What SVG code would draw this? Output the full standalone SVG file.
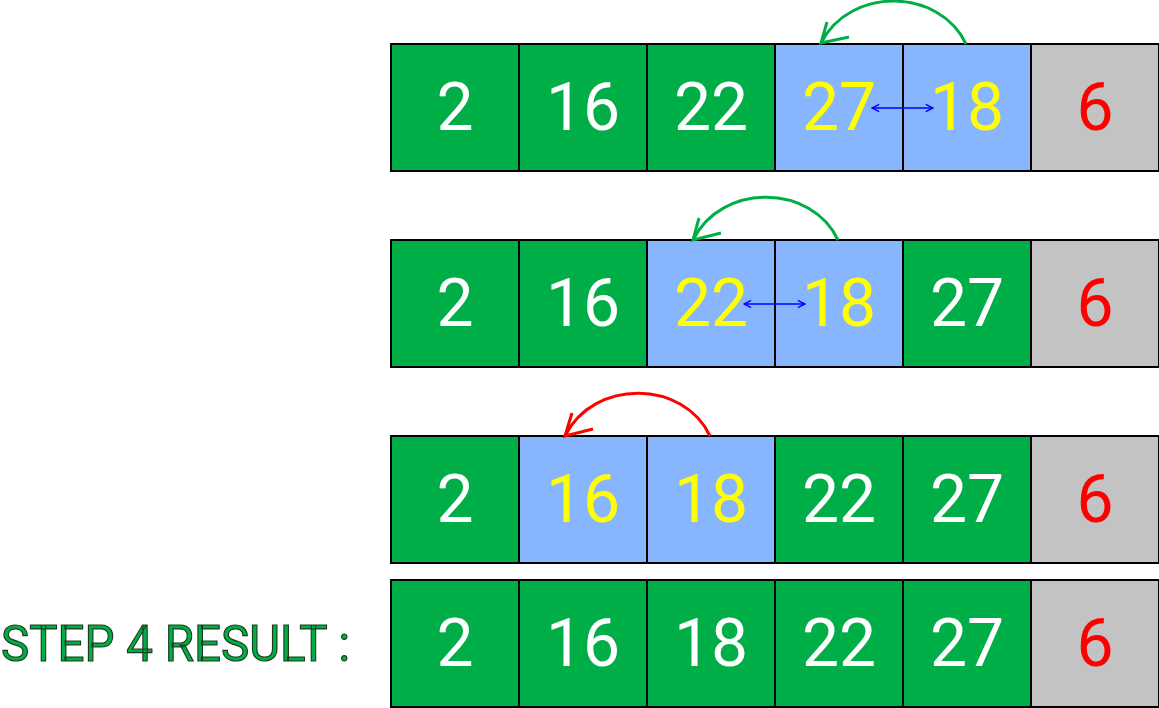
<svg xmlns="http://www.w3.org/2000/svg" width="1159" height="708" viewBox="0 0 1159 708">
<style>
.g{fill:#00AE48;stroke:#000;stroke-width:2}
.b{fill:#87B6FF;stroke:#000;stroke-width:2}
.s{fill:#C3C3C3;stroke:#000;stroke-width:2}
text{font-family:Roboto,"Liberation Sans",sans-serif;font-size:66px;text-anchor:middle}
.w{fill:#fff}.y{fill:#FFFF00}.r{fill:#FF0000}
.lbl{font-size:50px;text-anchor:start;fill:#00AE48;stroke:#1a3a1a;stroke-width:1.2}
.arcg{fill:none;stroke:#00AE48;stroke-width:3}
.arcr{fill:none;stroke:#FF0000;stroke-width:3}
.dbl{fill:none;stroke:#0000FF;stroke-width:1.6}
</style>
<defs>
<marker id="ah" viewBox="0 0 10 10" refX="9" refY="5" markerWidth="9" markerHeight="9" orient="auto-start-reverse" markerUnits="userSpaceOnUse">
<path d="M1,1 L9,5 L1,9" fill="none" stroke="#0000FF" stroke-width="1.6"/>
</marker>
</defs>
<g id="row1">
<rect class="g" x="391" y="44" width="128" height="127"/>
<rect class="g" x="519" y="44" width="128" height="127"/>
<rect class="g" x="647" y="44" width="128" height="127"/>
<rect class="b" x="775" y="44" width="128" height="127"/>
<rect class="b" x="903" y="44" width="128" height="127"/>
<rect class="s" x="1031" y="44" width="128" height="127"/>
<text class="w" x="455" y="130">2</text>
<text class="w" x="583" y="130">16</text>
<text class="w" x="711" y="130">22</text>
<text class="y" x="839" y="130">27</text>
<text class="y" x="967" y="130">18</text>
<text class="r" x="1095" y="130">6</text>
</g>
<g id="row2">
<rect class="g" x="391" y="240" width="128" height="127"/>
<rect class="g" x="519" y="240" width="128" height="127"/>
<rect class="b" x="647" y="240" width="128" height="127"/>
<rect class="b" x="775" y="240" width="128" height="127"/>
<rect class="g" x="903" y="240" width="128" height="127"/>
<rect class="s" x="1031" y="240" width="128" height="127"/>
<text class="w" x="455" y="326">2</text>
<text class="w" x="583" y="326">16</text>
<text class="y" x="711" y="326">22</text>
<text class="y" x="839" y="326">18</text>
<text class="w" x="967" y="326">27</text>
<text class="r" x="1095" y="326">6</text>
</g>
<g id="row3">
<rect class="g" x="391" y="436" width="128" height="127"/>
<rect class="b" x="519" y="436" width="128" height="127"/>
<rect class="b" x="647" y="436" width="128" height="127"/>
<rect class="g" x="775" y="436" width="128" height="127"/>
<rect class="g" x="903" y="436" width="128" height="127"/>
<rect class="s" x="1031" y="436" width="128" height="127"/>
<text class="w" x="455" y="522">2</text>
<text class="y" x="583" y="522">16</text>
<text class="y" x="711" y="522">18</text>
<text class="w" x="839" y="522">22</text>
<text class="w" x="967" y="522">27</text>
<text class="r" x="1095" y="522">6</text>
</g>
<g id="row4">
<rect class="g" x="391" y="580" width="128" height="127"/>
<rect class="g" x="519" y="580" width="128" height="127"/>
<rect class="g" x="647" y="580" width="128" height="127"/>
<rect class="g" x="775" y="580" width="128" height="127"/>
<rect class="g" x="903" y="580" width="128" height="127"/>
<rect class="s" x="1031" y="580" width="128" height="127"/>
<text class="w" x="455" y="666">2</text>
<text class="w" x="583" y="666">16</text>
<text class="w" x="711" y="666">18</text>
<text class="w" x="839" y="666">22</text>
<text class="w" x="967" y="666">27</text>
<text class="r" x="1095" y="666">6</text>
</g>
<g id="label">
<text class="lbl" x="1" y="661" textLength="349" lengthAdjust="spacingAndGlyphs">STEP 4 RESULT :</text>
</g>
<g id="connectors">
<path class="arcg" d="M966,44 C940,-12 850,-14 821,43"/>
<path class="arcg" d="M827,22 L821,43 L849,37"/>
<path class="dbl" d="M872,108 L933,108" marker-start="url(#ah)" marker-end="url(#ah)"/>
<path class="arcg" d="M838,240 C812,184 722,182 693,240"/>
<path class="arcg" d="M699,218 L693,240 L721,233"/>
<path class="dbl" d="M744,304 L805,304" marker-start="url(#ah)" marker-end="url(#ah)"/>
<path class="arcr" d="M710,436 C684,380 594,378 565,436"/>
<path class="arcr" d="M572,413 L565,436 L593,429"/>
</g>
</svg>
